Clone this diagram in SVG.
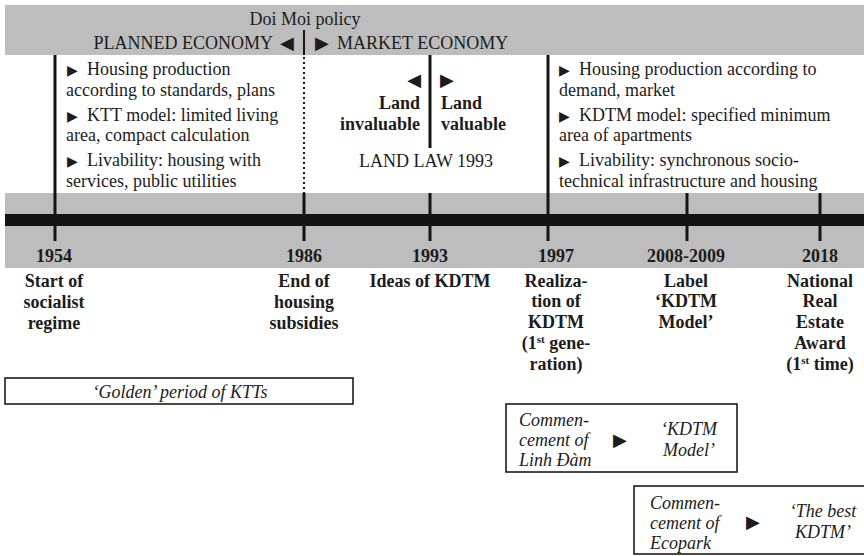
<svg xmlns="http://www.w3.org/2000/svg" width="864" height="556" viewBox="0 0 864 556">
  <style>
    text { font-family: "Liberation Serif", "Times New Roman", serif; font-size: 18px; fill: #1c1c1c; }
    .b { font-weight: bold; }
    .it { font-style: italic; }
    .mid { text-anchor: middle; }
    .end { text-anchor: end; }
    .tri { font-family: "DejaVu Sans", sans-serif; font-size: 14px; }
    .tri-lg { font-family: "DejaVu Sans", sans-serif; font-size: 18px; }
    .band { fill: #bdbdbd; }
    .bar { fill: #141414; }
    .line { stroke: #141414; stroke-width: 3; fill: none; }
    .dots { stroke: #141414; stroke-width: 2; stroke-dasharray: 2 3; fill: none; }
    .box { fill: #ffffff; stroke: #1c1c1c; stroke-width: 1.6; }
  </style>

  <rect width="864" height="556" fill="#ffffff"/>

  <!-- background bands and time axis -->
  <g id="bands">
    <rect class="band" x="5" y="5" width="859" height="50"/>
    <rect class="band" x="5" y="193" width="859" height="75"/>
    <rect class="bar" x="5" y="214" width="859" height="12"/>
  </g>

  <!-- policy header -->
  <g id="header">
    <text class="mid" x="305" y="25">Doi Moi policy</text>
    <text class="end" x="273" y="49">PLANNED ECONOMY</text>
    <text class="tri-lg" x="280" y="49">◀</text>
    <text class="tri-lg" x="315" y="49">▶</text>
    <text x="337" y="49">MARKET ECONOMY</text>
  </g>

  <!-- vertical markers and axis ticks -->
  <g id="connectors">
    <line class="line" x1="55" y1="55" x2="55" y2="241"/>
    <line class="line" x1="304" y1="30" x2="304" y2="55" style="stroke-width:2"/>
    <line class="dots" x1="304" y1="57" x2="304" y2="193"/>
    <line class="line" x1="304" y1="193" x2="304" y2="241"/>
    <line class="line" x1="430" y1="55" x2="430" y2="148"/>
    <line class="line" x1="430" y1="193" x2="430" y2="241"/>
    <line class="line" x1="548" y1="55" x2="548" y2="241"/>
    <line class="line" x1="687" y1="193" x2="687" y2="241"/>
    <line class="line" x1="820" y1="193" x2="820" y2="241"/>
  </g>

  <!-- planned economy characteristics -->
  <g id="planned-notes">
    <text><tspan class="tri" x="67" y="75">▶</tspan><tspan x="87" y="75">Housing production</tspan></text>
    <text x="66" y="96">according to standards, plans</text>
    <text><tspan class="tri" x="67" y="121">▶</tspan><tspan x="87" y="121">KTT model: limited living</tspan></text>
    <text x="66" y="141">area, compact calculation</text>
    <text><tspan class="tri" x="67" y="166">▶</tspan><tspan x="87" y="166">Livability: housing with</tspan></text>
    <text x="66" y="187">services, public utilities</text>
  </g>

  <!-- land law 1993 -->
  <g id="land-law">
    <text class="tri-lg end" x="421" y="86">◀</text>
    <text class="b end" x="420" y="109">Land</text>
    <text class="b end" x="420" y="130">invaluable</text>
    <text class="tri-lg" x="440" y="86">▶</text>
    <text class="b" x="441" y="109">Land</text>
    <text class="b" x="441" y="130">valuable</text>
    <text class="mid" x="426" y="167">LAND LAW 1993</text>
  </g>

  <!-- market economy characteristics -->
  <g id="market-notes">
    <text><tspan class="tri" x="559" y="75">▶</tspan><tspan x="579" y="75">Housing production according to</tspan></text>
    <text x="559" y="96">demand, market</text>
    <text><tspan class="tri" x="559" y="121">▶</tspan><tspan x="579" y="121">KDTM model: specified minimum</tspan></text>
    <text x="559" y="141">area of apartments</text>
    <text><tspan class="tri" x="559" y="166">▶</tspan><tspan x="579" y="166">Livability: synchronous socio-</tspan></text>
    <text x="559" y="187">technical infrastructure and housing</text>
  </g>

  <!-- milestones -->
  <g id="event-1954">
    <text class="b mid" x="54" y="262">1954</text>
    <text class="b mid" x="54" y="287">Start of</text>
    <text class="b mid" x="54" y="308">socialist</text>
    <text class="b mid" x="54" y="329">regime</text>
  </g>
  <g id="event-1986">
    <text class="b mid" x="304" y="262">1986</text>
    <text class="b mid" x="304" y="287">End of</text>
    <text class="b mid" x="304" y="308">housing</text>
    <text class="b mid" x="304" y="329">subsidies</text>
  </g>
  <g id="event-1993">
    <text class="b mid" x="430" y="262">1993</text>
    <text class="b mid" x="430" y="287">Ideas of KDTM</text>
  </g>
  <g id="event-1997">
    <text class="b mid" x="556" y="262">1997</text>
    <text class="b mid" x="556" y="287">Realiza-</text>
    <text class="b mid" x="556" y="307">tion of</text>
    <text class="b mid" x="556" y="328">KDTM</text>
    <text class="b mid" x="556" y="349">(1<tspan font-size="11" dy="-6">st</tspan><tspan dy="6"> gene-</tspan></text>
    <text class="b mid" x="556" y="370">ration)</text>
  </g>
  <g id="event-2008">
    <text class="b mid" x="686" y="262">2008-2009</text>
    <text class="b mid" x="686" y="287">Label</text>
    <text class="b mid" x="686" y="307">‘KDTM</text>
    <text class="b mid" x="686" y="328">Model’</text>
  </g>
  <g id="event-2018">
    <text class="b mid" x="820" y="262">2018</text>
    <text class="b mid" x="820" y="287">National</text>
    <text class="b mid" x="820" y="307">Real</text>
    <text class="b mid" x="820" y="328">Estate</text>
    <text class="b mid" x="820" y="349">Award</text>
    <text class="b mid" x="820" y="370">(1<tspan font-size="11" dy="-6">st</tspan><tspan dy="6"> time)</tspan></text>
  </g>

  <!-- period boxes -->
  <g id="golden-period">
    <rect class="box" x="5" y="378" width="348" height="26"/>
    <text class="it mid" x="180" y="398">‘Golden’ period of KTTs</text>
  </g>
  <g id="linh-dam">
    <rect class="box" x="506" y="404" width="231" height="68"/>
    <text class="it" x="519" y="426">Commen-</text>
    <text class="it" x="519" y="446">cement of</text>
    <text class="it" x="519" y="466">Linh Đàm</text>
    <text class="tri-lg" x="613" y="446">▶</text>
    <text class="it mid" x="689" y="435">‘KDTM</text>
    <text class="it mid" x="689" y="456">Model’</text>
  </g>
  <g id="ecopark">
    <rect class="box" x="634" y="486" width="240" height="68"/>
    <text class="it" x="650" y="509">Commen-</text>
    <text class="it" x="650" y="529">cement of</text>
    <text class="it" x="650" y="549">Ecopark</text>
    <text class="tri-lg" x="746" y="528">▶</text>
    <text class="it mid" x="823" y="517">‘The best</text>
    <text class="it mid" x="823" y="538">KDTM’</text>
  </g>
</svg>
